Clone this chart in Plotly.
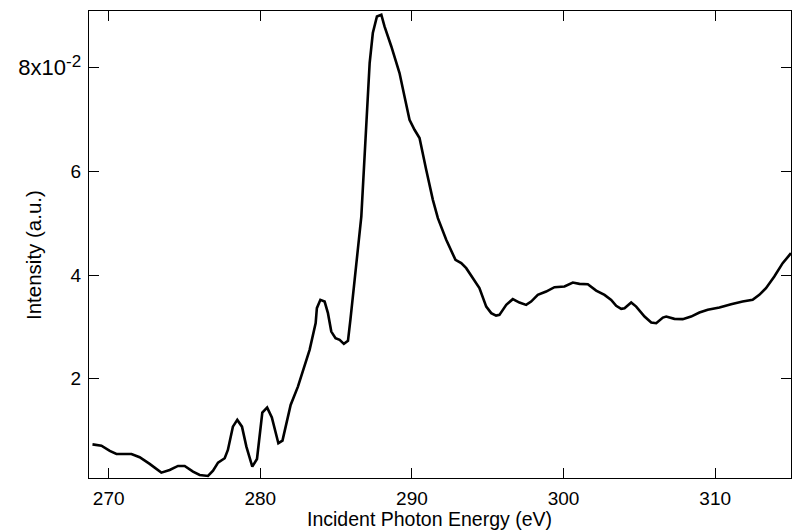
import plotly.graph_objects as go

energy_eV = [268.93, 269.52, 270.07, 270.51, 271.50, 272.04, 272.70, 273.47, 274.02, 274.57,
             275.01, 275.56, 276.00, 276.55, 276.88, 277.21, 277.65, 277.86, 278.19, 278.48,
             278.79, 279.08, 279.47, 279.78, 280.13, 280.45, 280.76, 281.19, 281.46, 282.00,
             282.48, 282.92, 283.25, 283.65, 283.73, 283.96, 284.24, 284.46, 284.68, 284.96,
             285.23, 285.51, 285.78, 285.94, 286.10, 286.22, 286.66, 286.99, 287.21, 287.42,
             287.69, 287.98, 288.19, 288.64, 289.18, 289.51, 289.84, 290.17, 290.50, 290.94,
             291.38, 291.71, 292.26, 292.87, 293.25, 293.58, 294.01, 294.45, 294.90, 295.23,
             295.55, 295.77, 296.22, 296.65, 297.09, 297.53, 297.86, 298.30, 298.85, 299.40,
             300.06, 300.61, 301.05, 301.60, 302.15, 302.70, 303.14, 303.47, 303.80, 304.02,
             304.46, 304.79, 305.34, 305.78, 306.11, 306.55, 306.77, 307.31, 307.86, 308.41,
             308.96, 309.51, 310.28, 311.05, 311.81, 312.47, 312.91, 313.35, 313.90, 314.45,
             315.00]

intensity_e2 = [0.73, 0.705, 0.603, 0.545, 0.545, 0.481, 0.352, 0.184, 0.236, 0.313,
                0.313, 0.203, 0.139, 0.120, 0.222, 0.377, 0.462, 0.622, 1.072, 1.202,
                1.072, 0.686, 0.300, 0.448, 1.343, 1.44, 1.25, 0.752, 0.802, 1.492,
                1.845, 2.265, 2.555, 3.071, 3.36, 3.521, 3.488, 3.264, 2.908, 2.781,
                2.748, 2.671, 2.729, 3.134, 3.650, 3.907, 5.130, 6.870, 8.095, 8.674,
                8.995, 9.028, 8.802, 8.415, 7.901, 7.449, 6.999, 6.806, 6.645, 6.033,
                5.453, 5.099, 4.680, 4.293, 4.230, 4.133, 3.940, 3.747, 3.391, 3.264,
                3.217, 3.231, 3.424, 3.534, 3.469, 3.424, 3.488, 3.617, 3.681, 3.766,
                3.778, 3.855, 3.830, 3.824, 3.700, 3.617, 3.521, 3.405, 3.347, 3.360,
                3.469, 3.391, 3.198, 3.082, 3.070, 3.179, 3.198, 3.154, 3.148, 3.198,
                3.275, 3.328, 3.372, 3.438, 3.488, 3.521, 3.617, 3.747, 3.971, 4.230,
                4.423]

intensity = [v * 0.01 for v in intensity_e2]

x_tick_vals = [270, 280, 290, 300, 310]
y_tick_vals = [0.02, 0.04, 0.06, 0.08]
y_tick_text = ["2", "4", "6",
               "<span style='font-size:22px'>8x10</span>"
               "<sup><span style='font-size:17px'>-2</span></sup>"]
x_title = "Incident Photon Energy (eV)"
y_title = "Intensity (a.u.)"

fig = go.Figure()
fig.add_trace(go.Scatter(x=energy_eV, y=intensity, mode="lines",
                         line=dict(color="black", width=2.6), showlegend=False))

font_family = "Liberation Sans"
fig.update_layout(
    width=792, height=531,
    margin=dict(l=89, r=1, t=11, b=53),
    plot_bgcolor="white", paper_bgcolor="white",
    font=dict(family=font_family, size=19, color="black"),
    xaxis=dict(range=[268.7, 315.0], tickvals=x_tick_vals, ticks="inside", ticklen=10,
               tickwidth=1, tickcolor="black", showline=True, linecolor="black", linewidth=1,
               mirror="ticks", showgrid=False, zeroline=False, ticklabelstandoff=3,
               tickfont=dict(size=19), automargin=False),
    yaxis=dict(range=[0.0008, 0.091], tickvals=y_tick_vals, ticktext=y_tick_text,
               ticks="inside", ticklen=10, tickwidth=1, tickcolor="black", showline=True,
               linecolor="black", linewidth=1, mirror="ticks", showgrid=False, zeroline=False,
               ticklabelstandoff=3, tickfont=dict(size=19), automargin=False),
    annotations=[
        dict(text=x_title, xref="paper", yref="paper", x=0.485, y=0, xanchor="center",
             yanchor="middle", yshift=-41, showarrow=False, font=dict(size=19.5)),
        dict(text=y_title, xref="paper", yref="paper", x=0, y=0.4775, xanchor="center",
             yanchor="middle", xshift=-56, textangle=-90, showarrow=False,
             font=dict(size=20.5)),
    ],
)

fig.write_html("out.html", config={"displayModeBar": False},
               post_script="document.body.style.margin='0';")
